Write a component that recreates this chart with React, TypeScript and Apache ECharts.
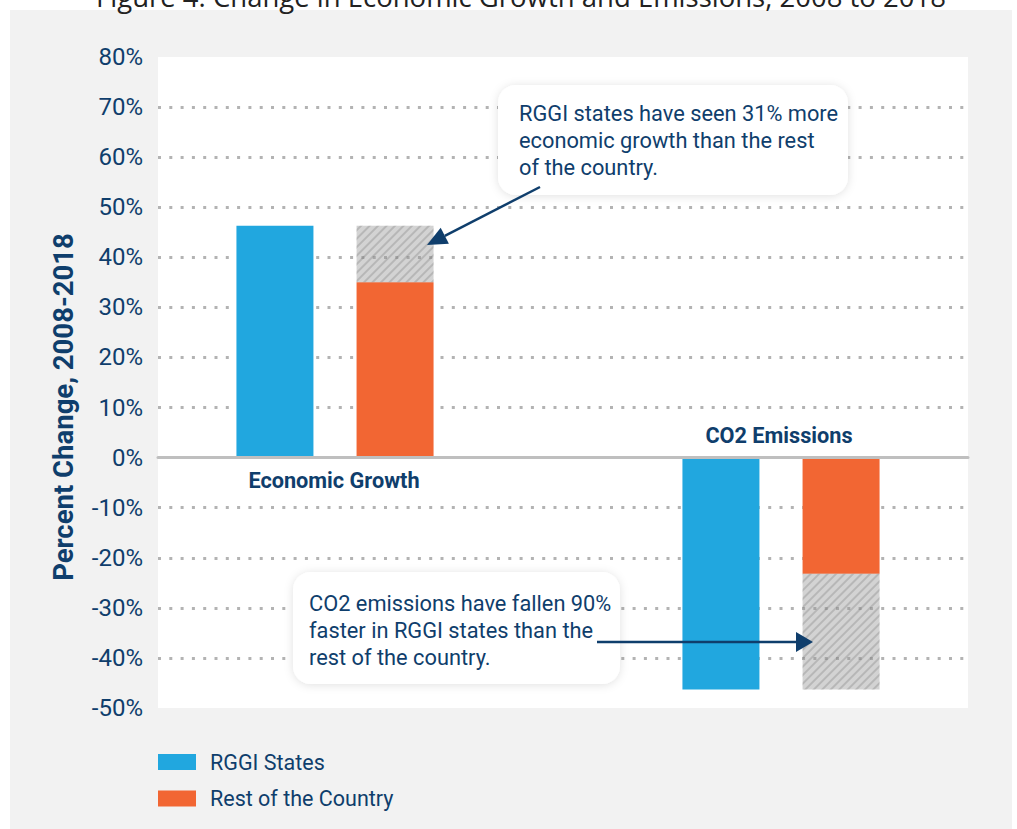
import React, { useEffect, useRef } from "react";
import * as echarts from "echarts";

const titleText = "Figure 4: Change in Economic Growth and Emissions, 2008 to 2018";
const categories = ["Economic Growth", "CO2 Emissions"];
const seriesNames = ["RGGI States", "Rest of the Country"];
const rggiValues = [46.3, -46.3];
const restValues = [35.0, -23.2];
// hatched part: the gap between the rest of the country and the RGGI states
const gapValues = rggiValues.map((v, i) => Number((v - restValues[i]).toFixed(1)));
const yMin = -50;
const yMax = 80;
const yStep = 10;
const yAxisTitle = "Percent Change, 2008-2018";
const note1 = ["RGGI states have seen 31% more", "economic growth than the rest", "of the country."];
const note2 = ["CO2 emissions have fallen 90%", "faster in RGGI states than the", "rest of the country."];

const NAVY = "#0f3e6c";
const BLUE = "#21a7df";
const ORANGE = "#f26633";
const FONT = "Roboto";

export default function App() {
  const ref = useRef<HTMLDivElement>(null);
  useEffect(() => {
    if (!ref.current) return;
    const chart = echarts.init(ref.current, undefined, { renderer: "svg" });
    const top = 57;
    const height = 651;
    const tip1 = [427, 245];
    const start1 = [540, 187];
    const dx = start1[0] - tip1[0];
    const dy = start1[1] - tip1[1];
    const len = Math.sqrt(dx * dx + dy * dy);
    const ux = dx / len;
    const uy = dy / len;
    const hl = 20;
    const hw = 9;
    const bx = tip1[0] + ux * hl;
    const by = tip1[1] + uy * hl;
    const option: any = {
      animation: false,
      backgroundColor: "#ffffff",
      textStyle: { fontFamily: FONT },
      grid: [
        { left: 158, top, width: 810, height, show: true, backgroundColor: "#ffffff", borderWidth: 0 },
        { left: 112, top, width: 892, height, show: false },
      ],
      xAxis: [
        {
          gridIndex: 0,
          type: "category",
          data: [""],
          axisLine: { show: true, onZero: true, lineStyle: { color: "#bfbfbf", width: 3 } },
          axisTick: { show: false },
          axisLabel: { show: false },
          splitLine: { show: false },
          z: 5,
        },
        {
          gridIndex: 1,
          type: "category",
          data: categories,
          show: false,
        },
      ],
      yAxis: [
        {
          gridIndex: 0,
          type: "value",
          min: yMin,
          max: yMax,
          interval: yStep,
          axisLine: { show: false },
          axisTick: { show: false },
          axisLabel: {
            formatter: (v: number) => `${v}%`,
            color: NAVY,
            fontSize: 24,
            fontFamily: FONT,
            margin: 15,
          },
          splitLine: {
            show: true,
            showMinLine: false,
            showMaxLine: false,
            lineStyle: { color: "#b3b3b3", width: 3, type: [3, 8.3] },
          },
        },
        {
          gridIndex: 1,
          type: "value",
          min: yMin,
          max: yMax,
          interval: yStep,
          show: false,
          splitLine: { show: false },
        },
      ],
      legend: {
        data: seriesNames,
        orient: "vertical",
        left: 158,
        top: 751,
        padding: 0,
        itemWidth: 38,
        itemHeight: 16,
        itemGap: 14.5,
        icon: "rect",
        textStyle: { color: NAVY, fontSize: 21.5, fontFamily: FONT, lineHeight: 20, padding: [0, 0, 0, 9] },
      },
      series: [
        {
          name: seriesNames[0],
          type: "bar",
          xAxisIndex: 1,
          yAxisIndex: 1,
          data: rggiValues,
          barWidth: 77,
          barGap: "56%",
          itemStyle: { color: BLUE },
          z: 3,
        },
        {
          name: seriesNames[1],
          type: "bar",
          xAxisIndex: 1,
          yAxisIndex: 1,
          stack: "rest",
          data: restValues,
          barWidth: 77,
          barGap: "56%",
          itemStyle: { color: ORANGE },
          z: 3,
        },
        {
          name: "Gap",
          type: "bar",
          xAxisIndex: 1,
          yAxisIndex: 1,
          stack: "rest",
          data: gapValues,
          barWidth: 77,
          barGap: "56%",
          itemStyle: {
            color: "rgba(150,150,150,0.42)",
            decal: {
              symbol: "rect",
              symbolSize: 1,
              dashArrayX: [1, 0],
              dashArrayY: [1.5, 4],
              rotation: -Math.PI / 4,
              color: "rgba(110,110,110,0.28)",
            },
          },
          z: 3,
        },
      ],
      graphic: [
        { type: "rect", z: -100, shape: { x: 10, y: 10, width: 1002, height: 830 }, style: { fill: "#f2f2f2" } },
        {
          type: "text",
          x: 521,
          y: 10,
          style: { text: titleText, fill: "#222222", font: "27.5px 'Open Sans'", align: "center", verticalAlign: "bottom" },
        },
        {
          type: "text",
          x: 63,
          y: 407,
          rotation: Math.PI / 2,
          style: { text: yAxisTitle, fill: NAVY, font: `bold 27.5px ${FONT}`, align: "center", verticalAlign: "middle" },
        },
        {
          type: "text",
          x: 334,
          y: 480,
          z: 20,
          style: { text: categories[0], fill: NAVY, font: `bold 21.7px ${FONT}`, align: "center", verticalAlign: "middle" },
        },
        {
          type: "text",
          x: 779,
          y: 435,
          z: 20,
          style: { text: categories[1], fill: NAVY, font: `bold 21.7px ${FONT}`, align: "center", verticalAlign: "middle" },
        },
        {
          type: "rect",
          z: 50,
          shape: { x: 498, y: 85, width: 350, height: 110, r: 18 },
          style: { fill: "#ffffff", shadowBlur: 10, shadowColor: "rgba(0,0,0,0.12)", shadowOffsetY: 1 },
        },
        {
          type: "text",
          z: 51,
          x: 519,
          y: 100,
          style: {
            text: note1.join("\n"),
            fill: NAVY,
            font: `21.8px ${FONT}`,
            lineHeight: 27,
            align: "left",
            verticalAlign: "top",
          },
        },
        {
          type: "line",
          z: 52,
          shape: { x1: start1[0], y1: start1[1], x2: bx, y2: by },
          style: { stroke: NAVY, lineWidth: 2.5 },
        },
        {
          type: "polygon",
          z: 52,
          shape: {
            points: [
              [tip1[0], tip1[1]],
              [bx - uy * hw, by + ux * hw],
              [bx + uy * hw, by - ux * hw],
            ],
          },
          style: { fill: NAVY },
        },
        {
          type: "rect",
          z: 50,
          shape: { x: 293, y: 572, width: 327, height: 112, r: 18 },
          style: { fill: "#ffffff", shadowBlur: 10, shadowColor: "rgba(0,0,0,0.12)", shadowOffsetY: 1 },
        },
        {
          type: "text",
          z: 51,
          x: 309,
          y: 590,
          style: {
            text: note2.join("\n"),
            fill: NAVY,
            font: `21.8px ${FONT}`,
            lineHeight: 27,
            align: "left",
            verticalAlign: "top",
          },
        },
        {
          type: "line",
          z: 52,
          shape: { x1: 597, y1: 642, x2: 797, y2: 642 },
          style: { stroke: NAVY, lineWidth: 2.5 },
        },
        {
          type: "polygon",
          z: 52,
          shape: { points: [[796, 632], [796, 652], [813, 642]] },
          style: { fill: NAVY },
        },
      ],
    };
    chart.setOption(option);
    return () => chart.dispose();
  }, []);
  return <div ref={ref} style={{ position: "absolute", left: 0, top: 0, width: 1017, height: 829 }} />;
}
